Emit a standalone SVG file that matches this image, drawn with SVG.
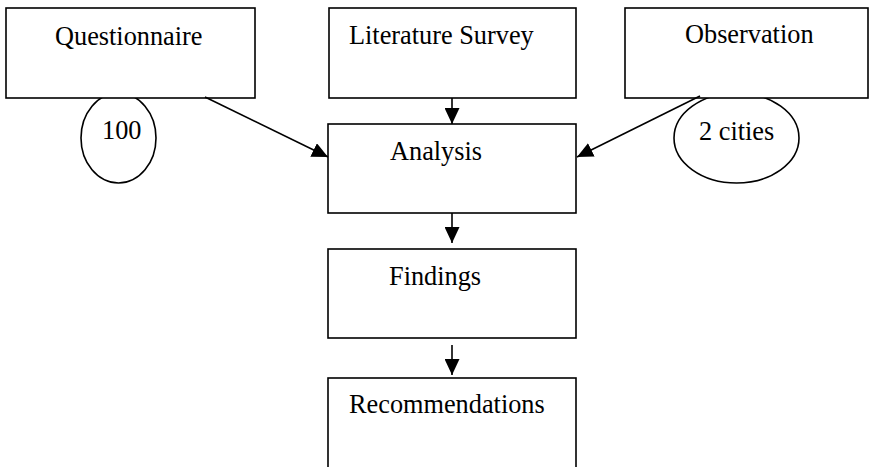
<svg xmlns="http://www.w3.org/2000/svg" width="869" height="467" viewBox="0 0 869 467">
  <style>
    .box { fill: #ffffff; stroke: #000000; stroke-width: 1.6; }
    .oval { fill: #ffffff; stroke: #000000; stroke-width: 1.6; }
    .lbl { font-family: "Liberation Serif", "Times New Roman", serif; font-size: 26.3px; fill: #000000; }
    .edge { stroke: #000000; stroke-width: 1.6; fill: none; marker-end: url(#ah); }
  </style>
  <defs>
    <marker id="ah" markerUnits="userSpaceOnUse" markerWidth="16" markerHeight="15" refX="16" refY="7.5" orient="auto">
      <path d="M0,0 L16,7.5 L0,15 Z" fill="#000000"/>
    </marker>
  </defs>
  <rect x="0" y="0" width="869" height="467" fill="#ffffff"/>

  <g id="oval-100">
    <ellipse class="oval" cx="118.5" cy="138" rx="37.5" ry="45"/>
    <text class="lbl" x="102" y="139">100</text>
  </g>
  <g id="oval-2cities">
    <ellipse class="oval" cx="736.5" cy="138" rx="62.5" ry="45"/>
    <text class="lbl" x="699" y="140">2 cities</text>
  </g>

  <g id="questionnaire">
    <rect class="box" x="6" y="8" width="249" height="90"/>
    <text class="lbl" x="55" y="45">Questionnaire</text>
  </g>
  <g id="literature-survey">
    <rect class="box" x="329" y="8" width="247" height="90"/>
    <text class="lbl" x="349" y="44">Literature Survey</text>
  </g>
  <g id="observation">
    <rect class="box" x="625" y="8" width="243" height="90"/>
    <text class="lbl" x="685" y="43">Observation</text>
  </g>
  <g id="analysis">
    <rect class="box" x="328" y="124" width="248" height="89"/>
    <text class="lbl" x="390" y="160">Analysis</text>
  </g>
  <g id="findings">
    <rect class="box" x="328" y="249" width="248" height="89"/>
    <text class="lbl" x="389" y="285">Findings</text>
  </g>
  <g id="recommendations">
    <rect class="box" x="328" y="378" width="248" height="100"/>
    <text class="lbl" x="349" y="413">Recommendations</text>
  </g>

  <g id="connectors">
    <line class="edge" x1="452" y1="98" x2="452" y2="124"/>
    <line class="edge" x1="205" y1="97" x2="328" y2="157"/>
    <line class="edge" x1="700" y1="96" x2="577" y2="157"/>
    <line class="edge" x1="452" y1="213" x2="452" y2="243"/>
    <line class="edge" x1="452" y1="345" x2="452" y2="375"/>
  </g>
</svg>
